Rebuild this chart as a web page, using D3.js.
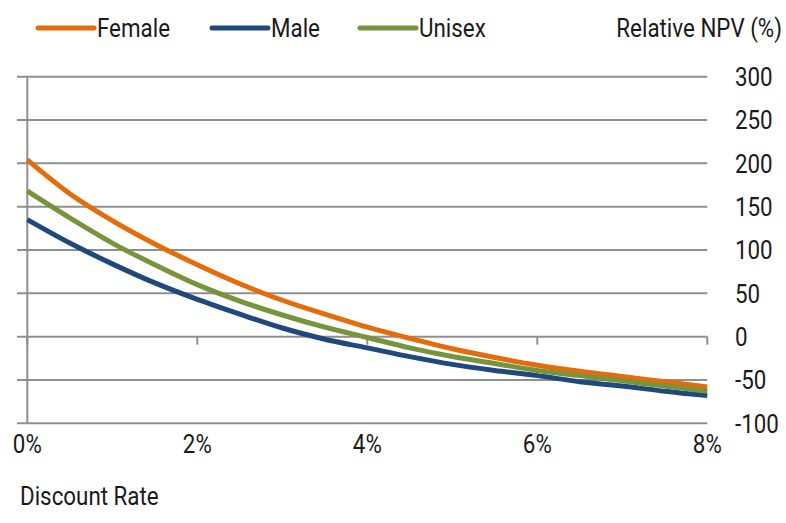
<!DOCTYPE html>
<html>
<head>
<meta charset="utf-8">
<script src="https://cdn.jsdelivr.net/npm/d3@7"></script>
<style>
  html, body { margin: 0; padding: 0; background: #fff; }
  svg text { font-family: "Roboto", "Liberation Sans", sans-serif; font-weight: 400; fill: #1a1a1a; }
</style>
</head>
<body>
<svg id="chart" width="786" height="523"></svg>
<script>
// ---- data ----
const rates = [0, 0.005, 0.01, 0.015, 0.02, 0.025, 0.03, 0.035, 0.04, 0.045, 0.05, 0.055, 0.06, 0.065, 0.07, 0.075, 0.08];
const female = [204, 165, 134, 107, 83, 61, 42, 26, 11, -2, -14, -24, -33, -40, -46, -52, -58];
const male   = [135, 108, 84, 62, 43, 26, 10, -3, -13, -23, -32, -39, -45, -52, -57, -63, -68];
const unisex = [168, 137, 108, 83, 60, 41, 25, 11, -1, -13, -23, -31, -39, -45, -51, -57, -63];
const seriesNames = ["Female", "Male", "Unisex"];
const seriesColors = ["#E46C0A", "#1F497D", "#77933C"];
const yTicks = [-100, -50, 0, 50, 100, 150, 200, 250, 300];
const xTicks = [0, 0.02, 0.04, 0.06, 0.08];
const xTickLabels = ["0%", "2%", "4%", "6%", "8%"];
const yTitle = "Relative NPV (%)";
const xTitle = "Discount Rate";

const svg = d3.select("#chart");
const x = d3.scaleLinear().domain([0, 0.08]).range([27.3, 707.3]);
const y = d3.scaleLinear().domain([-100, 300]).range([423.3, 76.7]);
const gridColor = "#8f8f8f";
const fs = 26;
const sx = 0.86; // condensed look

function label(g, tx, ty, txt, anchor) {
  return g.append("text")
    .attr("transform", `translate(${tx},${ty}) scale(${sx},1)`)
    .attr("dy", "0.36em")
    .attr("text-anchor", anchor || "start")
    .attr("font-size", fs)
    .text(txt);
}

// horizontal gridlines (with left tick stubs)
svg.append("g").selectAll("line").data(yTicks).join("line")
  .attr("x1", 17).attr("x2", x(0.08))
  .attr("y1", d => y(d)).attr("y2", d => y(d))
  .attr("stroke", gridColor).attr("stroke-width", 2);

// vertical axis
svg.append("line").attr("x1", x(0)).attr("x2", x(0))
  .attr("y1", y(300)).attr("y2", y(-100))
  .attr("stroke", gridColor).attr("stroke-width", 2);

// x ticks on zero line
svg.append("g").selectAll("line").data(xTicks).join("line")
  .attr("x1", d => x(d)).attr("x2", d => x(d))
  .attr("y1", y(0)).attr("y2", y(0) + 8)
  .attr("stroke", gridColor).attr("stroke-width", 2);

// right y labels
const yl = svg.append("g");
yTicks.forEach(d => label(yl, 735, y(d), String(d)));

// bottom x labels
const xl = svg.append("g");
xTicks.forEach((d, i) => label(xl, x(d), 444, xTickLabels[i], "middle"));

// titles
label(svg, 782, 28, yTitle, "end");
label(svg, 20, 496, xTitle);

// lines
const data = [female, male, unisex];
const line = d3.line().x((d, i) => x(rates[i])).y(d => y(d)).curve(d3.curveMonotoneX);
svg.append("g").selectAll("path").data(data).join("path")
  .attr("d", d => line(d))
  .attr("fill", "none")
  .attr("stroke", (d, i) => seriesColors[i])
  .attr("stroke-width", 5)
  .attr("stroke-linejoin", "round");

// legend
const legendX = [38, 212, 360];
seriesNames.forEach((name, i) => {
  const g = svg.append("g").attr("transform", `translate(${legendX[i]},28)`);
  g.append("line").attr("x1", 0).attr("x2", 56).attr("y1", 0).attr("y2", 0)
    .attr("stroke", seriesColors[i]).attr("stroke-width", 5).attr("stroke-linecap", "round");
  label(g, 59, 0, name);
});
</script>
</body>
</html>
